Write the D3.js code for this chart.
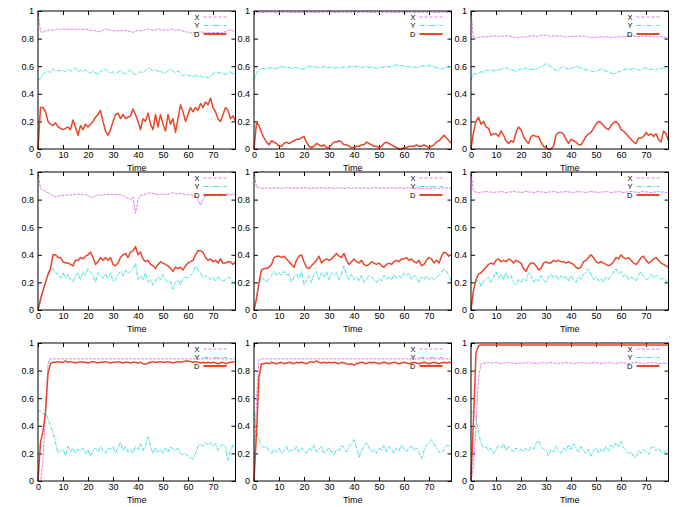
<!DOCTYPE html>
<html>
<head>
<meta charset="utf-8">
<script src="https://cdn.jsdelivr.net/npm/d3@7/dist/d3.min.js"></script>
<style>
  body { margin: 0; background: #fff; }
  svg text { font-family: "Liberation Sans", Arial, sans-serif; fill: #000; }
</style>
</head>
<body>
<div id="chart"></div>
<script>
// time steps 0..79
const timeSteps = d3.range(80);
const xTicks = [0, 10, 20, 30, 40, 50, 60, 70];
const yTicks = [0, 0.2, 0.4, 0.6, 0.8, 1];
const seriesNames = ["X", "Y", "D"];

// ---- row 1 ----
const p1X = [1.00,0.85,0.845,0.855,0.86,0.865,0.86,0.865,0.87,0.865,
  0.87,0.865,0.87,0.865,0.87,0.865,0.865,0.87,0.865,0.87,
  0.865,0.86,0.86,0.855,0.85,0.85,0.86,0.87,0.865,0.86,
  0.855,0.86,0.855,0.86,0.855,0.86,0.855,0.85,0.845,0.855,
  0.86,0.855,0.86,0.865,0.87,0.865,0.86,0.865,0.87,0.865,
  0.86,0.865,0.86,0.87,0.865,0.86,0.865,0.86,0.855,0.85,
  0.845,0.84,0.845,0.84,0.845,0.85,0.845,0.84,0.845,0.84,
  0.845,0.84,0.845,0.84,0.845,0.85,0.86,0.865,0.855,0.85];
const p1Y = [0.50,0.51,0.54,0.56,0.57,0.55,0.58,0.56,0.57,0.565,
  0.57,0.56,0.58,0.565,0.57,0.59,0.56,0.57,0.555,0.575,
  0.56,0.55,0.57,0.55,0.545,0.56,0.575,0.58,0.56,0.55,
  0.56,0.545,0.555,0.57,0.55,0.545,0.56,0.575,0.55,0.54,
  0.545,0.56,0.55,0.57,0.59,0.58,0.565,0.575,0.56,0.57,
  0.55,0.545,0.57,0.58,0.56,0.55,0.565,0.55,0.53,0.54,
  0.53,0.535,0.52,0.535,0.525,0.53,0.52,0.525,0.515,0.53,
  0.545,0.56,0.55,0.555,0.545,0.54,0.55,0.56,0.545,0.55];
const p1D = [0,0.30,0.30,0.27,0.20,0.18,0.17,0.19,0.16,0.15,
  0.14,0.15,0.16,0.14,0.21,0.16,0.10,0.17,0.14,0.18,
  0.16,0.18,0.20,0.23,0.25,0.28,0.20,0.13,0.10,0.14,
  0.20,0.25,0.26,0.22,0.25,0.22,0.23,0.24,0.29,0.25,
  0.20,0.14,0.22,0.20,0.26,0.18,0.14,0.25,0.16,0.25,
  0.18,0.13,0.25,0.18,0.22,0.12,0.22,0.32,0.27,0.20,
  0.25,0.30,0.27,0.30,0.28,0.33,0.30,0.34,0.32,0.37,
  0.30,0.27,0.22,0.20,0.25,0.30,0.28,0.22,0.24,0.20];

const p2X = [1.00,0.99,0.99,0.988,0.99,0.99,0.992,0.99,0.99,0.988,
  0.99,0.99,0.99,0.992,0.99,0.99,0.988,0.99,0.99,0.99,
  0.99,0.992,0.99,0.99,0.988,0.99,0.99,0.99,0.992,0.99,
  0.99,0.99,0.988,0.99,0.99,0.99,0.992,0.99,0.99,0.99,
  0.988,0.99,0.99,0.99,0.992,0.99,0.99,0.99,0.988,0.99,
  0.99,0.99,0.992,0.99,0.99,0.99,0.988,0.99,0.99,0.99,
  0.992,0.99,0.99,0.99,0.988,0.99,0.99,0.99,0.992,0.99,
  0.99,0.99,0.988,0.99,0.99,0.99,0.992,0.99,0.99,0.99];
const p2Y = [0.50,0.55,0.57,0.58,0.585,0.58,0.59,0.585,0.58,0.585,
  0.59,0.60,0.59,0.595,0.59,0.585,0.59,0.59,0.585,0.58,
  0.58,0.59,0.60,0.595,0.60,0.59,0.595,0.59,0.60,0.59,
  0.59,0.595,0.585,0.59,0.585,0.59,0.595,0.59,0.595,0.60,
  0.60,0.595,0.60,0.59,0.595,0.60,0.59,0.595,0.59,0.585,
  0.59,0.595,0.59,0.60,0.595,0.60,0.605,0.61,0.60,0.605,
  0.60,0.595,0.60,0.59,0.595,0.59,0.595,0.60,0.605,0.60,
  0.605,0.60,0.595,0.59,0.585,0.58,0.585,0.59,0.595,0.60];
const p2D = [0,0.19,0.17,0.12,0.08,0.05,0.03,0.06,0.05,0.04,
  0.02,0.02,0.04,0.05,0.04,0.05,0.06,0.07,0.07,0.08,
  0.09,0.05,0.02,0.01,0.02,0.04,0.03,0.02,0.03,0.01,
  0.01,0.03,0.05,0.05,0.06,0.05,0.03,0.03,0.02,0.01,
  0.01,0.02,0.02,0.03,0.03,0.05,0.04,0.03,0.02,0.02,
  0.01,0.02,0.04,0.05,0.04,0.03,0.02,0.01,0.00,0.00,
  0.01,0.01,0.02,0.02,0.02,0.03,0.02,0.02,0.03,0.02,
  0.01,0.02,0.03,0.05,0.06,0.08,0.10,0.08,0.06,0.04];

const p3X = [1.00,0.80,0.805,0.81,0.81,0.815,0.81,0.815,0.815,0.82,
  0.82,0.815,0.82,0.815,0.82,0.82,0.815,0.81,0.81,0.805,
  0.81,0.815,0.81,0.815,0.82,0.82,0.815,0.82,0.825,0.825,
  0.825,0.82,0.815,0.82,0.82,0.815,0.82,0.815,0.81,0.815,
  0.815,0.82,0.815,0.82,0.815,0.82,0.815,0.81,0.81,0.805,
  0.81,0.81,0.815,0.81,0.815,0.81,0.805,0.81,0.81,0.815,
  0.81,0.815,0.815,0.82,0.815,0.82,0.815,0.815,0.82,0.815,
  0.82,0.815,0.815,0.81,0.815,0.81,0.815,0.81,0.81,0.81];
const p3Y = [0.50,0.55,0.54,0.55,0.56,0.555,0.57,0.57,0.575,0.565,
  0.575,0.57,0.58,0.585,0.59,0.58,0.575,0.57,0.56,0.575,
  0.58,0.575,0.59,0.58,0.575,0.58,0.575,0.59,0.60,0.605,
  0.62,0.605,0.60,0.58,0.57,0.565,0.59,0.60,0.585,0.58,
  0.585,0.59,0.60,0.595,0.585,0.58,0.575,0.57,0.565,0.56,
  0.56,0.57,0.58,0.575,0.565,0.56,0.55,0.545,0.55,0.56,
  0.565,0.575,0.58,0.58,0.575,0.585,0.58,0.575,0.57,0.585,
  0.59,0.575,0.58,0.575,0.57,0.585,0.58,0.59,0.585,0.60];
const p3D = [0,0.12,0.20,0.23,0.18,0.20,0.16,0.15,0.10,0.11,
  0.11,0.09,0.13,0.10,0.06,0.04,0.06,0.05,0.12,0.16,
  0.14,0.09,0.06,0.04,0.09,0.10,0.09,0.09,0.05,0.02,
  0.01,0.00,0.00,0.02,0.10,0.12,0.12,0.11,0.07,0.04,
  0.07,0.06,0.05,0.03,0.03,0.06,0.09,0.11,0.12,0.15,
  0.18,0.20,0.19,0.17,0.15,0.14,0.17,0.19,0.20,0.18,
  0.14,0.13,0.11,0.09,0.07,0.05,0.04,0.08,0.08,0.09,
  0.12,0.10,0.11,0.09,0.11,0.07,0.05,0.13,0.11,0.06];

// ---- row 2 ----
const p4X = [1.00,0.88,0.87,0.86,0.85,0.84,0.825,0.82,0.825,0.83,
  0.83,0.835,0.83,0.835,0.835,0.84,0.84,0.835,0.84,0.835,
  0.83,0.82,0.815,0.83,0.835,0.83,0.835,0.84,0.84,0.835,
  0.84,0.835,0.84,0.835,0.83,0.82,0.81,0.80,0.82,0.70,
  0.80,0.83,0.835,0.84,0.845,0.85,0.845,0.84,0.835,0.84,
  0.84,0.835,0.84,0.845,0.85,0.845,0.84,0.845,0.84,0.835,
  0.84,0.835,0.83,0.825,0.80,0.76,0.80,0.83,0.835,0.835,
  0.84,0.835,0.835,0.84,0.835,0.835,0.84,0.835,0.84,0.835];
const p4Y = [0,0.05,0.15,0.20,0.24,0.28,0.30,0.27,0.26,0.23,
  0.27,0.23,0.26,0.22,0.20,0.25,0.27,0.22,0.28,0.25,
  0.30,0.27,0.25,0.20,0.27,0.25,0.23,0.26,0.23,0.27,
  0.21,0.22,0.26,0.28,0.25,0.29,0.26,0.28,0.30,0.34,
  0.22,0.25,0.22,0.27,0.20,0.22,0.18,0.21,0.24,0.22,
  0.26,0.22,0.20,0.21,0.15,0.20,0.22,0.18,0.23,0.24,
  0.23,0.25,0.27,0.32,0.29,0.27,0.23,0.25,0.24,0.22,
  0.24,0.21,0.24,0.22,0.21,0.22,0.24,0.23,0.20,0.21];
const p4D = [0,0.08,0.14,0.20,0.26,0.30,0.40,0.40,0.38,0.38,
  0.35,0.34,0.34,0.33,0.32,0.36,0.36,0.38,0.37,0.39,
  0.40,0.42,0.38,0.33,0.35,0.38,0.36,0.38,0.36,0.38,
  0.33,0.32,0.34,0.38,0.40,0.41,0.38,0.42,0.43,0.46,
  0.40,0.42,0.37,0.35,0.36,0.33,0.32,0.30,0.33,0.35,
  0.34,0.33,0.32,0.30,0.28,0.31,0.30,0.31,0.29,0.32,
  0.34,0.35,0.36,0.40,0.43,0.43,0.42,0.38,0.36,0.37,
  0.35,0.36,0.34,0.37,0.34,0.34,0.35,0.35,0.33,0.35];

const p5X = [1.00,0.89,0.885,0.885,0.88,0.885,0.885,0.88,0.885,0.885,
  0.885,0.88,0.885,0.885,0.885,0.88,0.885,0.885,0.88,0.885,
  0.885,0.885,0.88,0.885,0.885,0.88,0.885,0.885,0.885,0.88,
  0.885,0.885,0.88,0.885,0.885,0.885,0.88,0.885,0.885,0.88,
  0.885,0.885,0.885,0.88,0.885,0.885,0.88,0.885,0.885,0.885,
  0.88,0.885,0.885,0.88,0.885,0.885,0.885,0.88,0.885,0.885,
  0.88,0.885,0.885,0.885,0.88,0.885,0.885,0.88,0.885,0.885,
  0.885,0.88,0.885,0.885,0.88,0.885,0.885,0.885,0.88,0.885];
const p5Y = [0,0.10,0.18,0.24,0.22,0.20,0.23,0.25,0.28,0.25,
  0.27,0.25,0.28,0.25,0.26,0.20,0.24,0.26,0.23,0.28,
  0.18,0.22,0.25,0.20,0.26,0.28,0.22,0.27,0.24,0.28,
  0.22,0.27,0.25,0.27,0.22,0.26,0.32,0.25,0.22,0.26,
  0.22,0.24,0.21,0.25,0.20,0.22,0.25,0.24,0.22,0.20,
  0.23,0.21,0.25,0.22,0.24,0.22,0.26,0.23,0.25,0.23,
  0.27,0.25,0.27,0.22,0.25,0.24,0.20,0.24,0.22,0.25,
  0.22,0.24,0.22,0.24,0.25,0.27,0.30,0.28,0.25,0.20];
const p5D = [0,0.08,0.20,0.29,0.30,0.30,0.31,0.33,0.38,0.39,
  0.39,0.38,0.39,0.37,0.35,0.33,0.31,0.36,0.39,0.40,
  0.35,0.31,0.30,0.32,0.34,0.36,0.39,0.34,0.36,0.37,
  0.36,0.37,0.39,0.41,0.39,0.38,0.41,0.36,0.33,0.35,
  0.37,0.35,0.34,0.36,0.33,0.32,0.33,0.35,0.34,0.33,
  0.34,0.32,0.31,0.33,0.34,0.33,0.35,0.36,0.35,0.37,
  0.37,0.38,0.36,0.37,0.35,0.34,0.36,0.32,0.33,0.36,
  0.38,0.37,0.34,0.36,0.34,0.39,0.42,0.41,0.39,0.40];

const p6X = [1.00,0.86,0.855,0.85,0.855,0.855,0.86,0.855,0.855,0.85,
  0.855,0.855,0.86,0.855,0.85,0.855,0.855,0.86,0.855,0.855,
  0.85,0.855,0.86,0.855,0.855,0.85,0.855,0.86,0.855,0.855,
  0.85,0.855,0.855,0.86,0.855,0.85,0.855,0.855,0.86,0.855,
  0.855,0.85,0.855,0.86,0.855,0.855,0.85,0.855,0.86,0.855,
  0.855,0.85,0.855,0.855,0.86,0.855,0.85,0.855,0.855,0.86,
  0.855,0.85,0.855,0.855,0.86,0.855,0.855,0.85,0.855,0.86,
  0.855,0.855,0.85,0.855,0.855,0.86,0.855,0.855,0.85,0.86];
const p6Y = [0,0.15,0.20,0.22,0.17,0.21,0.22,0.24,0.20,0.24,
  0.28,0.23,0.26,0.22,0.27,0.23,0.25,0.20,0.18,0.22,
  0.20,0.23,0.21,0.27,0.25,0.20,0.23,0.21,0.25,0.22,
  0.20,0.24,0.26,0.23,0.25,0.22,0.25,0.23,0.24,0.21,
  0.25,0.22,0.20,0.24,0.22,0.26,0.27,0.30,0.26,0.22,
  0.24,0.21,0.23,0.20,0.24,0.22,0.25,0.27,0.30,0.26,
  0.28,0.24,0.26,0.22,0.24,0.23,0.21,0.25,0.28,0.24,
  0.22,0.23,0.26,0.23,0.25,0.24,0.22,0.23,0.21,0.20];
const p6D = [0,0.14,0.22,0.26,0.27,0.29,0.31,0.33,0.34,0.33,
  0.36,0.37,0.35,0.36,0.35,0.37,0.36,0.34,0.36,0.35,
  0.34,0.30,0.28,0.32,0.34,0.34,0.32,0.29,0.30,0.34,
  0.35,0.34,0.34,0.36,0.35,0.36,0.35,0.35,0.34,0.35,
  0.34,0.33,0.31,0.30,0.31,0.35,0.36,0.38,0.40,0.38,
  0.35,0.34,0.35,0.34,0.33,0.32,0.33,0.35,0.38,0.37,
  0.40,0.38,0.37,0.38,0.36,0.34,0.33,0.35,0.38,0.39,
  0.36,0.34,0.35,0.37,0.38,0.36,0.34,0.33,0.32,0.31];

// ---- row 3 ----
const p7X = [0,0,0.15,0.50,0.85,0.885,0.885,0.885,0.885,0.885,
  0.885,0.885,0.885,0.885,0.885,0.885,0.885,0.885,0.885,0.885,
  0.885,0.885,0.885,0.885,0.885,0.885,0.885,0.885,0.885,0.885,
  0.885,0.885,0.885,0.885,0.885,0.885,0.885,0.885,0.885,0.885,
  0.885,0.885,0.885,0.885,0.885,0.885,0.885,0.885,0.885,0.885,
  0.885,0.885,0.885,0.885,0.885,0.885,0.885,0.885,0.885,0.885,
  0.885,0.885,0.885,0.885,0.885,0.885,0.885,0.885,0.885,0.885,
  0.885,0.885,0.885,0.885,0.885,0.885,0.885,0.885,0.885,0.885];
const p7Y = [0.50,0.51,0.48,0.50,0.45,0.40,0.35,0.28,0.20,0.22,
  0.23,0.18,0.25,0.21,0.24,0.20,0.23,0.22,0.24,0.20,
  0.23,0.18,0.22,0.24,0.21,0.25,0.22,0.20,0.24,0.23,
  0.25,0.20,0.24,0.28,0.22,0.25,0.21,0.23,0.20,0.25,
  0.23,0.27,0.22,0.26,0.32,0.25,0.20,0.24,0.21,0.23,
  0.20,0.24,0.21,0.25,0.23,0.22,0.24,0.20,0.19,0.20,
  0.18,0.17,0.16,0.20,0.25,0.27,0.25,0.28,0.26,0.28,
  0.25,0.27,0.22,0.25,0.27,0.25,0.15,0.22,0.26,0.24];
const p7D = [0,0.28,0.36,0.50,0.78,0.85,0.86,0.86,0.865,0.86,
  0.86,0.87,0.86,0.865,0.86,0.855,0.86,0.865,0.86,0.86,
  0.855,0.86,0.865,0.86,0.855,0.86,0.86,0.865,0.86,0.855,
  0.86,0.86,0.865,0.86,0.855,0.86,0.86,0.855,0.86,0.86,
  0.855,0.86,0.85,0.845,0.855,0.86,0.865,0.86,0.86,0.865,
  0.86,0.86,0.865,0.86,0.855,0.86,0.865,0.86,0.865,0.87,
  0.87,0.865,0.86,0.865,0.86,0.855,0.86,0.855,0.86,0.855,
  0.86,0.855,0.85,0.855,0.86,0.85,0.855,0.86,0.865,0.86];

const p8X = [0,0.60,0.88,0.885,0.885,0.885,0.885,0.885,0.885,0.885,
  0.885,0.885,0.885,0.885,0.885,0.885,0.885,0.885,0.885,0.885,
  0.885,0.885,0.885,0.885,0.885,0.885,0.885,0.885,0.885,0.885,
  0.885,0.885,0.885,0.885,0.885,0.885,0.885,0.885,0.885,0.885,
  0.885,0.885,0.885,0.885,0.885,0.885,0.885,0.885,0.885,0.885,
  0.885,0.885,0.885,0.885,0.885,0.885,0.885,0.885,0.885,0.885,
  0.885,0.885,0.885,0.885,0.885,0.885,0.885,0.885,0.885,0.885,
  0.885,0.885,0.885,0.885,0.885,0.885,0.885,0.885,0.885,0.885];
const p8Y = [0.50,0.36,0.30,0.26,0.24,0.25,0.22,0.20,0.23,0.21,
  0.24,0.20,0.22,0.25,0.21,0.23,0.22,0.25,0.21,0.24,
  0.22,0.20,0.24,0.22,0.26,0.21,0.23,0.25,0.20,0.22,
  0.24,0.21,0.19,0.23,0.22,0.26,0.24,0.21,0.25,0.27,
  0.30,0.24,0.17,0.22,0.25,0.28,0.24,0.21,0.23,0.20,
  0.24,0.22,0.26,0.21,0.25,0.23,0.20,0.24,0.22,0.26,
  0.23,0.21,0.24,0.25,0.22,0.24,0.21,0.16,0.22,0.26,
  0.28,0.30,0.27,0.24,0.21,0.20,0.23,0.26,0.25,0.27];
const p8D = [0,0.35,0.75,0.85,0.85,0.855,0.85,0.86,0.855,0.85,
  0.855,0.86,0.85,0.855,0.86,0.855,0.85,0.86,0.855,0.86,
  0.855,0.85,0.86,0.865,0.86,0.87,0.86,0.855,0.86,0.855,
  0.86,0.855,0.86,0.855,0.85,0.86,0.855,0.85,0.845,0.85,
  0.84,0.85,0.855,0.86,0.855,0.85,0.86,0.855,0.86,0.855,
  0.85,0.855,0.86,0.855,0.85,0.855,0.86,0.855,0.85,0.855,
  0.86,0.855,0.85,0.855,0.86,0.855,0.85,0.855,0.86,0.855,
  0.85,0.855,0.86,0.855,0.85,0.855,0.86,0.855,0.86,0.855];

const p9X = [0,0.10,0.40,0.75,0.85,0.855,0.855,0.86,0.855,0.855,
  0.86,0.855,0.85,0.855,0.855,0.86,0.855,0.855,0.85,0.855,
  0.85,0.855,0.855,0.86,0.855,0.855,0.85,0.855,0.855,0.86,
  0.855,0.855,0.86,0.855,0.855,0.85,0.855,0.855,0.86,0.855,
  0.855,0.85,0.855,0.855,0.86,0.855,0.855,0.85,0.855,0.86,
  0.855,0.855,0.85,0.855,0.855,0.86,0.855,0.855,0.85,0.855,
  0.86,0.855,0.855,0.85,0.855,0.855,0.86,0.855,0.855,0.85,
  0.855,0.855,0.86,0.855,0.855,0.85,0.855,0.855,0.85,0.855];
const p9Y = [0.50,0.50,0.45,0.35,0.27,0.24,0.25,0.22,0.24,0.20,
  0.23,0.26,0.24,0.27,0.22,0.25,0.23,0.21,0.24,0.22,
  0.23,0.21,0.24,0.22,0.25,0.23,0.27,0.30,0.25,0.23,
  0.22,0.18,0.23,0.21,0.25,0.22,0.20,0.24,0.22,0.26,
  0.23,0.27,0.24,0.21,0.25,0.22,0.20,0.23,0.18,0.22,
  0.24,0.20,0.23,0.21,0.25,0.22,0.26,0.24,0.28,0.25,
  0.29,0.24,0.22,0.20,0.21,0.18,0.17,0.22,0.20,0.23,
  0.21,0.19,0.24,0.25,0.22,0.24,0.21,0.20,0.22,0.24];
const p9D = [0,0.45,0.93,0.98,0.985,0.985,0.985,0.985,0.985,0.985,
  0.985,0.985,0.985,0.985,0.985,0.985,0.985,0.985,0.985,0.985,
  0.985,0.985,0.985,0.985,0.985,0.985,0.985,0.985,0.985,0.985,
  0.985,0.985,0.985,0.985,0.985,0.985,0.985,0.985,0.985,0.985,
  0.985,0.985,0.985,0.985,0.985,0.985,0.985,0.985,0.985,0.985,
  0.985,0.985,0.985,0.985,0.985,0.985,0.985,0.985,0.985,0.985,
  0.985,0.985,0.985,0.985,0.985,0.985,0.985,0.985,0.985,0.985,
  0.985,0.985,0.985,0.985,0.985,0.985,0.985,0.985,0.985,0.985];

const panels = [
  [p1X, p1Y, p1D], [p2X, p2Y, p2D], [p3X, p3Y, p3D],
  [p4X, p4Y, p4D], [p5X, p5Y, p5D], [p6X, p6Y, p6D],
  [p7X, p7Y, p7D], [p8X, p8Y, p8D], [p9X, p9Y, p9D],
];

// dash is for the key sample, lineDash for the plotted curve (denser)
const styles = [
  { color: "#e27ee6", width: 1, dash: "3,2", lineDash: "3,1" },
  { color: "#3ee0e0", width: 1, dash: "5,2,1,2", lineDash: "4,1,1,1" },
  { color: "#e8462a", width: 1.5, dash: null, lineDash: null },
];

const width = 685, height = 507;
const colLeft = [38, 254, 471];
const rowTop = [11, 172, 343];
const plotW = 197.5, plotH = 138;

const svg = d3.select("#chart").append("svg")
  .attr("width", width)
  .attr("height", height)
  .style("display", "block");

svg.append("rect").attr("width", width).attr("height", height).attr("fill", "#fff");

const x = d3.scaleLinear().domain([0, 79]).range([0, plotW]);
const y = d3.scaleLinear().domain([0, 1]).range([plotH, 0]);

const line = d3.line()
  .x((d, i) => x(timeSteps[i]))
  .y((d) => y(d));

panels.forEach((series, p) => {
  const g = svg.append("g")
    .attr("transform", `translate(${colLeft[p % 3]},${rowTop[Math.floor(p / 3)]})`);

  // axes with inward ticks
  const bottom = g.append("g").attr("transform", `translate(0,${plotH})`)
    .call(d3.axisBottom(x).tickValues(xTicks).tickSize(-4).tickPadding(3));
  const top = g.append("g")
    .call(d3.axisTop(x).tickValues(xTicks).tickSize(-4).tickFormat(""));
  const left = g.append("g")
    .call(d3.axisLeft(y).tickValues(yTicks).tickSize(-4).tickPadding(4).tickFormat(d3.format("")));
  const right = g.append("g").attr("transform", `translate(${plotW},0)`)
    .call(d3.axisRight(y).tickValues(yTicks).tickSize(-4).tickFormat(""));

  [bottom, top, left, right].forEach((a) => {
    a.select(".domain").remove();
    a.selectAll("line").attr("stroke", "#000");
    a.selectAll("text").style("font-size", "9px").attr("fill", "#000");
  });

  g.append("text")
    .attr("x", plotW / 2)
    .attr("y", plotH + 22)
    .attr("text-anchor", "middle")
    .style("font-size", "9px")
    .text("Time");

  const plot = g.append("g");
  series.forEach((values, k) => {
    plot.append("path")
      .datum(values)
      .attr("fill", "none")
      .attr("stroke", styles[k].color)
      .attr("stroke-width", styles[k].width)
      .attr("stroke-dasharray", styles[k].lineDash)
      .attr("stroke-linejoin", "round")
      .attr("d", line);
  });

  // key
  const key = g.append("g");
  seriesNames.forEach((name, k) => {
    const ky = 6 + k * 8.5;
    key.append("text")
      .attr("x", plotW - 36)
      .attr("y", ky)
      .attr("dy", "0.35em")
      .attr("text-anchor", "end")
      .style("font-size", "7.5px")
      .text(name);
    key.append("line")
      .attr("x1", plotW - 32).attr("x2", plotW - 9)
      .attr("y1", ky).attr("y2", ky)
      .attr("stroke", styles[k].color)
      .attr("stroke-width", k === 2 ? 2 : 1)
      .attr("stroke-dasharray", styles[k].dash);
  });

  g.append("rect")
    .attr("width", plotW)
    .attr("height", plotH)
    .attr("fill", "none")
    .attr("stroke", "#000")
    .attr("stroke-width", 1);
});
</script>
</body>
</html>
